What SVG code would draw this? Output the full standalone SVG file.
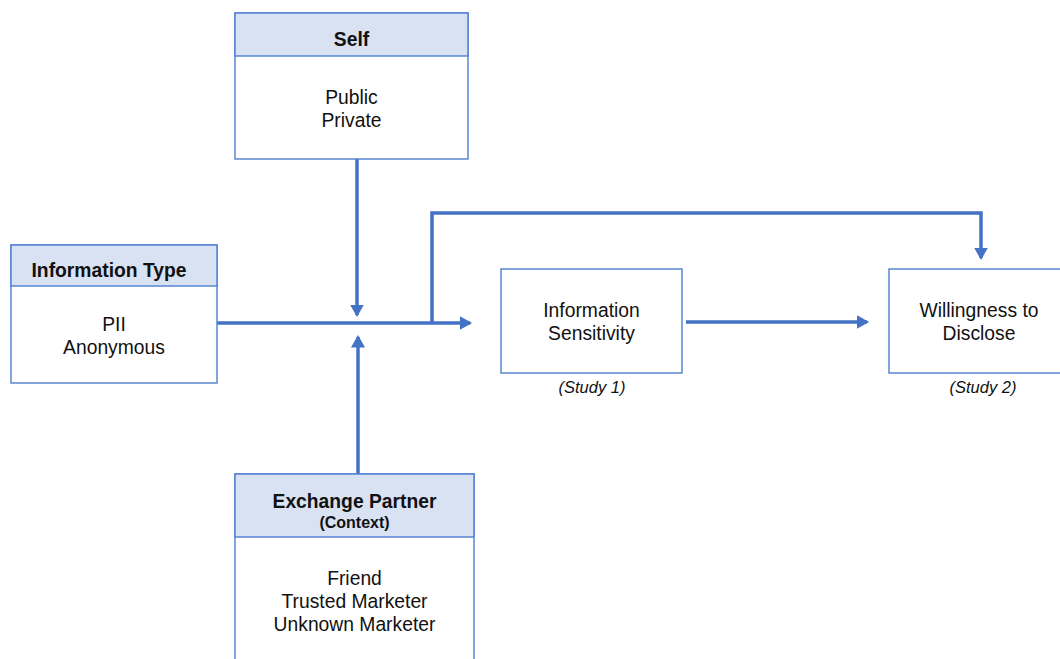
<svg xmlns="http://www.w3.org/2000/svg" width="1060" height="659" viewBox="0 0 1060 659">
<defs>
<marker id="ah" markerWidth="4" markerHeight="4" refX="3" refY="2" orient="auto" markerUnits="strokeWidth">
<path d="M0,0 L3.6,2 L0,4 Z" fill="#4472C4"/>
</marker>
<style>
.box{fill:#fff;stroke:#4F7FD0;stroke-width:1.4}
.hdr{fill:#D9E2F3;stroke:#4F7FD0;stroke-width:1.4}
.t{font-family:"Liberation Sans",Arial,Helvetica,sans-serif;font-size:19.3px;fill:#111;text-anchor:middle}
.b{font-weight:bold}
.s{font-size:16px}
.i{font-style:italic;font-size:16.5px}
.c{fill:none;stroke:#4472C4;stroke-width:3.5}
</style>
</defs>
<rect width="1060" height="659" fill="#fff"/>
<g id="connectors">
<path class="c" d="M217,323 H470" marker-end="url(#ah)"/>
<path class="c" d="M357,159 V315" marker-end="url(#ah)"/>
<path class="c" d="M358,474 V337" marker-end="url(#ah)"/>
<path class="c" d="M432,323 V213 H981 V258" marker-end="url(#ah)"/>
<path class="c" d="M686,322 H867" marker-end="url(#ah)"/>
</g>
<g id="self">
<rect class="box" x="235" y="13" width="233" height="146"/>
<rect class="hdr" x="235" y="13" width="233" height="43"/>
<text class="t b" x="351.5" y="46">Self</text>
<text class="t" x="351.5" y="104">Public</text>
<text class="t" x="351.5" y="127">Private</text>
</g>
<g id="infotype">
<rect class="box" x="11" y="245" width="206" height="138"/>
<rect class="hdr" x="11" y="245" width="206" height="41"/>
<text class="t b" x="109" y="277">Information Type</text>
<text class="t" x="114" y="331">PII</text>
<text class="t" x="114" y="354">Anonymous</text>
</g>
<g id="partner">
<rect class="box" x="235" y="474" width="239" height="200"/>
<rect class="hdr" x="235" y="474" width="239" height="63"/>
<text class="t b" x="354.5" y="508">Exchange Partner</text>
<text class="t b s" x="354.5" y="528">(Context)</text>
<text class="t" x="354.5" y="585">Friend</text>
<text class="t" x="354.5" y="608">Trusted Marketer</text>
<text class="t" x="354.5" y="631">Unknown Marketer</text>
</g>
<g id="sensitivity">
<rect class="box" x="501" y="269" width="181" height="104"/>
<text class="t" x="591.5" y="317">Information</text>
<text class="t" x="591.5" y="340">Sensitivity</text>
<text class="t i" x="592" y="393">(Study 1)</text>
</g>
<g id="willingness">
<rect class="box" x="889" y="269" width="180" height="104"/>
<text class="t" x="979" y="317">Willingness to</text>
<text class="t" x="979" y="340">Disclose</text>
<text class="t i" x="983" y="393">(Study 2)</text>
</g>
</svg>
